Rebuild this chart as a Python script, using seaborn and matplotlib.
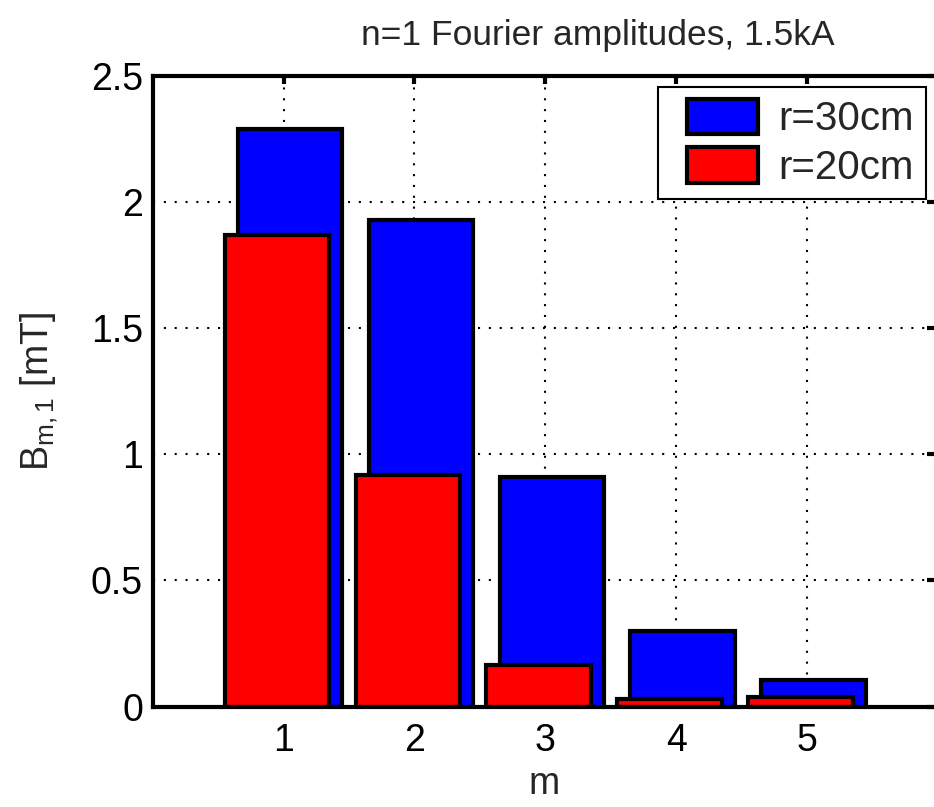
import numpy as np
import pandas as pd
import matplotlib
matplotlib.use("Agg")
import matplotlib.pyplot as plt
import seaborn as sns
from matplotlib.patches import Patch, Rectangle
from matplotlib.legend_handler import HandlerPatch

m_values = [1, 2, 3, 4, 5]
b_r30 = [2.29, 1.927, 0.91, 0.30, 0.105]
b_r20 = [1.868, 0.918, 0.165, 0.03, 0.037]
series_labels = ["r=30cm", "r=20cm"]
title = "n=1 Fourier amplitudes, 1.5kA"

sns.set_theme(style="white")
plt.rcParams['font.family'] = ['Liberation Sans', 'DejaVu Sans']
plt.rcParams['mathtext.fontset'] = 'custom'
plt.rcParams['mathtext.rm'] = 'Liberation Sans'
plt.rcParams['mathtext.it'] = 'Liberation Sans'

FS_T = 25.5
FS_TICK = 27
FS_LEG = 29

fig = plt.figure(figsize=(9.34, 8.07), dpi=100)
ax = fig.add_axes([0.1635, 0.1243, 0.838, 0.7821])

lw = 3.0
df30 = pd.DataFrame({"m": np.array(m_values) + 0.05, "B": b_r30})
df20 = pd.DataFrame({"m": np.array(m_values) - 0.05, "B": b_r20})
sns.barplot(data=df30, x="m", y="B", native_scale=True, width=0.8,
            color="#0000ff", saturation=1, edgecolor="black", linewidth=lw, ax=ax)
sns.barplot(data=df20, x="m", y="B", native_scale=True, width=0.8,
            color="#ff0000", saturation=1, edgecolor="black", linewidth=lw, ax=ax)

ax.set_xlim(0, 5.98)
ax.set_ylim(0, 2.5)
ax.set_xticks(m_values)
ax.set_xticklabels([str(v) for v in m_values])
ax.set_yticks([0, 0.5, 1, 1.5, 2, 2.5])
ax.set_yticklabels(["0", "0.5", "1", "1.5", "2", "2.5"])

ax.grid(True, color="black", linestyle=(0, (1, 4.2)), linewidth=1.5)
ax.set_axisbelow(True)
for s in ax.spines.values():
    s.set_linewidth(3.0)
    s.set_color("black")
ax.tick_params(direction="in", length=6, width=3, top=True, right=True,
               labelsize=FS_TICK, colors="black")
ax.tick_params(axis="x", pad=12)
ax.tick_params(axis="y", pad=7)

ax.set_xlabel("m", fontsize=FS_TICK, labelpad=5)
ax.set_ylabel(r"B$_{\mathregular{m,1}}$ [mT]", fontsize=FS_TICK, labelpad=22)
ax.set_title(title, fontsize=FS_T, pad=22, x=0.569)

SHIFT = 12  # px of extra left space inside legend handle box


def shifted_rect(legend, orig_handle, xdescent, ydescent, width, height, fontsize):
    return Rectangle((-xdescent + SHIFT, -ydescent), width - SHIFT, height)


handles = [Patch(facecolor="#0000ff", edgecolor="black", linewidth=3, label=series_labels[0]),
           Patch(facecolor="#ff0000", edgecolor="black", linewidth=3, label=series_labels[1])]
leg = ax.legend(handles=handles, loc="upper right", bbox_to_anchor=(0.988, 0.982),
                fontsize=FS_LEG, frameon=True, fancybox=False, edgecolor="black",
                handlelength=2.18, handleheight=0.97, handletextpad=0.5,
                borderpad=0.3, labelspacing=0.22, borderaxespad=0,
                handler_map={Patch: HandlerPatch(patch_func=shifted_rect)})
leg.get_frame().set_linewidth(1.5)
leg.get_frame().set_alpha(1)

fig.savefig("out.png", dpi=100)
